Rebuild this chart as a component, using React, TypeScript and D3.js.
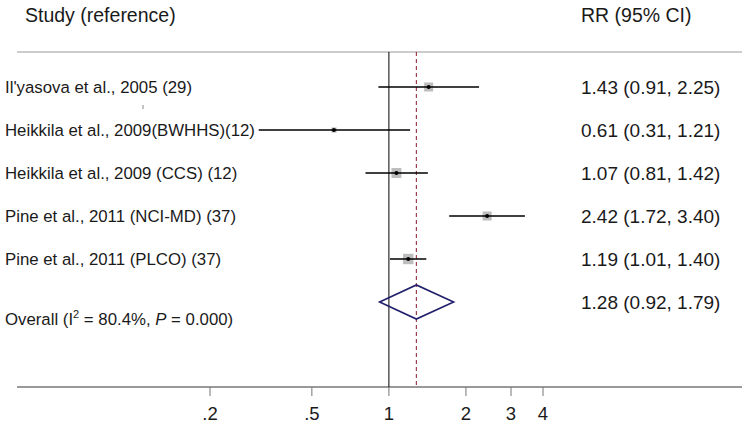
import React from "react";
import * as d3 from "d3";

const studies = [
  "Il'yasova et al., 2005 (29)",
  "Heikkila et al., 2009(BWHHS)(12)",
  "Heikkila et al., 2009 (CCS) (12)",
  "Pine et al., 2011 (NCI-MD) (37)",
  "Pine et al., 2011 (PLCO) (37)",
];
const rr = [1.43, 0.61, 1.07, 2.42, 1.19];
const lower = [0.91, 0.31, 0.81, 1.72, 1.01];
const upper = [2.25, 1.21, 1.42, 3.4, 1.4];
const weights = [18, 6, 22, 18, 24];
const overall = { rr: 1.28, lower: 0.92, upper: 1.79, i2: "80.4%", p: "0.000" };
const tickValues = [0.2, 0.5, 1, 2, 3, 4];
const tickLabels = [".2", ".5", "1", "2", "3", "4"];

const W = 744;
const H = 430;
const FONT = "Liberation Sans, Arial, sans-serif";

export default function App() {
  const x = d3.scaleLog().domain([0.2, 4]).range([210, 543]);
  const rows = [...studies.map((_, i) => i), studies.length];
  const y = d3.scalePoint<number>().domain(rows).range([87, 302]);
  const topY = 52;
  const axisY = 387;
  const fmt = (v: number) => v.toFixed(2);
  const sq = d3.scaleSqrt().domain([0, 25]).range([0, 5.3]);
  const oy = y(studies.length) as number;
  return (
    <svg width={W} height={H} style={{ position: "absolute", left: 0, top: 0, background: "#fff" }} fontFamily={FONT}>
      <text x={25} y={22} fontSize={19.5} fill="#1a1a1a">Study (reference)</text>
      <text x={581} y={22} fontSize={19.5} fill="#1a1a1a">RR (95% CI)</text>
      <line x1={17} x2={742} y1={topY} y2={topY} stroke="#999" strokeWidth={1.2} />
      <line x1={17} x2={742} y1={axisY} y2={axisY} stroke="#777" strokeWidth={1.5} />
      <line x1={x(1)} x2={x(1)} y1={topY} y2={axisY} stroke="#000" strokeWidth={1} />
      <line x1={x(overall.rr)} x2={x(overall.rr)} y1={topY} y2={axisY} stroke="#8b1a2b" strokeWidth={1} strokeDasharray="4,3" />
      {tickValues.map((t, i) => (
        <g key={t}>
          <line x1={x(t)} x2={x(t)} y1={axisY} y2={axisY + 9} stroke="#777" strokeWidth={1} />
          <text x={x(t)} y={420} fontSize={18.5} textAnchor="middle" fill="#1a1a1a">{tickLabels[i]}</text>
        </g>
      ))}
      <line x1={143} x2={143} y1={105} y2={109} stroke="#888" strokeWidth={1} />
      {studies.map((s, i) => {
        const cy = y(i) as number;
        const h = sq(weights[i]);
        return (
          <g key={s}>
            <text x={5} y={cy + 6} fontSize={16.8} fill="#1a1a1a">{s}</text>
            <rect x={x(rr[i]) - h} y={cy - h} width={2 * h} height={2 * h} fill="#bdbdbd" />
            <line x1={x(lower[i])} x2={x(upper[i])} y1={cy} y2={cy} stroke="#000" strokeWidth={1.5} />
            <circle cx={x(rr[i])} cy={cy} r={2} fill="#000" />
            <text x={581} y={cy + 7} fontSize={19} fill="#1a1a1a">
              {`${fmt(rr[i])} (${fmt(lower[i])}, ${fmt(upper[i])})`}
            </text>
          </g>
        );
      })}
      <path
        d={`M${x(overall.lower)},${oy} L${x(overall.rr)},${oy - 17} L${x(overall.upper)},${oy} L${x(overall.rr)},${oy + 17} Z`}
        fill="none"
        stroke="#1f1f6b"
        strokeWidth={1.6}
      />
      <text x={5} y={oy + 23} fontSize={16.8} fill="#1a1a1a">
        Overall (I<tspan fontSize={11} dy={-7}>2</tspan>
        <tspan dy={7}> = {overall.i2}, </tspan>
        <tspan fontStyle="italic">P</tspan> = {overall.p})
      </text>
      <text x={581} y={oy + 7} fontSize={19} fill="#1a1a1a">
        {`${fmt(overall.rr)} (${fmt(overall.lower)}, ${fmt(overall.upper)})`}
      </text>
    </svg>
  );
}
